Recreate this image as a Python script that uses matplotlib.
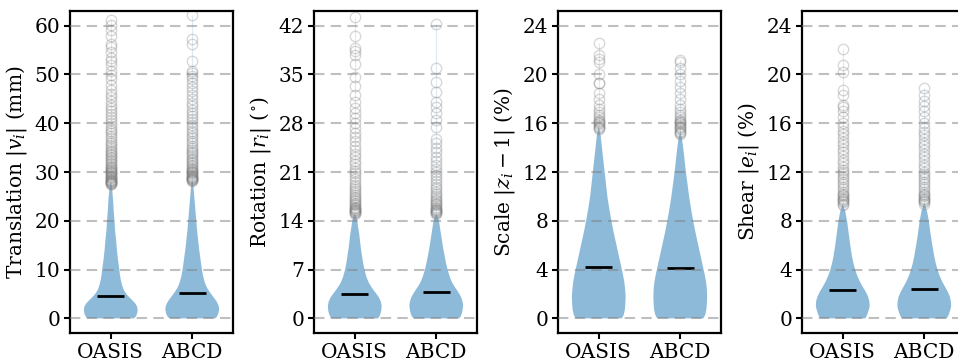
import matplotlib
matplotlib.use("Agg")
import matplotlib.pyplot as plt
import numpy as np

plt.rcParams['font.family'] = 'DejaVu Serif'
plt.rcParams['mathtext.fontset'] = 'dejavuserif'

groups = ["OASIS", "ABCD"]

ylabels = [r"Translation $|v_i|$ (mm)", r"Rotation $|r_i|$ ($^{\circ}$)",
           r"Scale $|z_i - 1|$ (%)", r"Shear $|e_i|$ (%)"]
tick_max = [60, 42, 24, 24]
tick_step = [10, 7, 4, 4]

medians = [[4.55, 5.25], [3.52, 3.81], [4.19, 4.17], [2.29, 2.42]]

# violin outlines: heights and relative half-widths
trans_y = [[0, 0.3, 0.7, 1.2, 1.8, 2.4, 3.0, 3.5, 4.0, 4.5, 5.0, 5.5, 6.0, 7, 8, 9, 10, 12,
            14, 16, 18, 20, 22, 24, 26, 27.5, 28],
           [0, 0.3, 0.7, 1.2, 1.8, 2.4, 3.0, 3.6, 4.2, 4.8, 5.4, 6.0, 6.6, 7.5, 8.5, 10, 12,
            14, 16, 18, 20, 22, 24, 26, 27.8, 28.5]]
trans_w = [[0.86, 0.92, 0.96, 0.99, 1.0, 0.98, 0.92, 0.84, 0.75, 0.66, 0.58, 0.52, 0.47,
            0.41, 0.37, 0.34, 0.32, 0.27, 0.23, 0.2, 0.16, 0.14, 0.11, 0.09, 0.06, 0.03, 0.0],
           [0.85, 0.91, 0.95, 0.98, 1.0, 0.99, 0.95, 0.89, 0.81, 0.73, 0.65, 0.58, 0.52,
            0.46, 0.41, 0.36, 0.31, 0.26, 0.22, 0.18, 0.15, 0.12, 0.09, 0.06, 0.03, 0.0]]
rot_y = [[0, 0.3, 0.7, 1.2, 1.8, 2.4, 3.0, 3.5, 4.0, 4.5, 5.0, 5.5, 6.0, 7, 8, 9, 10, 11,
          12, 13, 14, 14.6, 15],
         [0, 0.3, 0.7, 1.2, 1.8, 2.4, 3.0, 3.5, 4.0, 4.5, 5.0, 5.5, 6.0, 7, 8, 9, 10, 11,
          12, 13, 14, 14.6, 15]]
rot_w = [[0.86, 0.92, 0.96, 0.99, 1.0, 0.97, 0.9, 0.81, 0.71, 0.62, 0.54, 0.48, 0.43,
          0.36, 0.31, 0.27, 0.23, 0.2, 0.17, 0.13, 0.09, 0.05, 0.0],
         [0.85, 0.91, 0.95, 0.98, 1.0, 0.98, 0.93, 0.86, 0.78, 0.69, 0.61, 0.55, 0.5,
          0.42, 0.36, 0.31, 0.26, 0.22, 0.18, 0.14, 0.1, 0.05, 0.0]]
scale_y = [[0, 0.3, 0.7, 1.2, 1.8, 2.4, 3.0, 3.6, 4.2, 5, 6, 7, 8, 9, 10, 11, 12, 13, 14,
            15, 15.8],
           [0, 0.3, 0.7, 1.2, 1.8, 2.4, 3.0, 3.6, 4.2, 5, 6, 7, 8, 9, 10, 11, 12, 13, 14,
            14.8, 15.4]]
scale_w = [[0.86, 0.93, 0.97, 0.99, 1.0, 0.98, 0.95, 0.9, 0.84, 0.76, 0.66, 0.56, 0.47,
            0.39, 0.32, 0.27, 0.22, 0.17, 0.12, 0.07, 0.0],
           [0.86, 0.93, 0.97, 0.99, 1.0, 0.99, 0.96, 0.91, 0.85, 0.77, 0.67, 0.57, 0.48,
            0.4, 0.33, 0.27, 0.21, 0.16, 0.11, 0.06, 0.0]]
shear_y = [[0, 0.3, 0.7, 1.0, 1.4, 1.8, 2.2, 2.6, 3.0, 3.5, 4.0, 4.5, 5, 6, 7, 8, 8.7,
            9.4],
           [0, 0.3, 0.7, 1.0, 1.4, 1.8, 2.2, 2.6, 3.0, 3.5, 4.0, 4.5, 5, 6, 7, 8, 8.8,
            9.5]]
shear_w = [[0.84, 0.91, 0.97, 1.0, 0.99, 0.94, 0.85, 0.74, 0.64, 0.54, 0.46, 0.4, 0.35,
            0.28, 0.22, 0.16, 0.1, 0.0],
           [0.84, 0.91, 0.97, 1.0, 0.99, 0.95, 0.87, 0.77, 0.67, 0.57, 0.49, 0.43, 0.38,
            0.3, 0.23, 0.17, 0.1, 0.0]]

trans_out = [[27.5, 27.6, 27.7, 27.8, 27.9, 28.0, 28.1, 28.2, 28.3, 28.4, 28.6, 28.7, 28.9,
              29.0, 29.2, 29.3, 29.5, 29.7, 29.9, 30.1, 30.3, 30.5, 30.7, 30.9, 31.1, 31.3,
              31.6, 31.9, 32.2, 32.5, 32.8, 33.1, 33.4, 33.7, 34.0, 34.4, 34.8, 35.2, 35.6,
              36.0, 36.4, 36.9, 37.4, 37.9, 38.4, 38.9, 39.4, 40.0, 40.6, 41.2, 41.9, 42.6,
              43.2, 43.8, 44.5, 45.3, 46.0, 46.9, 47.8, 49.0, 49.8, 50.6, 51.9, 52.8, 53.4,
              54.5, 55.6, 56.3, 57.9, 59.1, 60.2, 61.2],
             [28.2, 28.3, 28.4, 28.5, 28.6, 28.7, 28.8, 28.9, 29.0, 29.2, 29.3, 29.5, 29.7,
              29.9, 30.1, 30.3, 30.5, 30.7, 30.9, 31.2, 31.5, 31.8, 32.1, 32.4, 32.7, 33.0,
              33.4, 33.8, 34.2, 34.6, 35.0, 35.4, 35.9, 36.4, 36.9, 37.4, 37.9, 38.4, 39.0,
              39.6, 40.2, 40.8, 41.4, 42.1, 42.8, 43.5, 44.2, 45.0, 45.8, 46.6, 47.4, 48.2,
              49.0, 49.6, 50.2, 50.7, 52.8, 56.3, 57.3, 62.2]]
rot_out = [[15.0, 15.1, 15.2, 15.3, 15.4, 15.5, 15.6, 15.7, 15.8, 15.9, 16.0, 16.2, 16.4,
            16.6, 16.8, 17.0, 17.2, 17.4, 17.7, 18.0, 18.3, 18.6, 18.9, 19.2, 19.6, 20.0,
            20.4, 20.8, 21.2, 21.6, 22.1, 22.6, 23.1, 23.6, 24.2, 24.8, 25.4, 26.0, 26.6,
            27.3, 28.0, 28.8, 29.4, 30.2, 31.0, 32.0, 33.3, 34.7, 36.5, 37.8, 38.3, 38.8,
            40.5, 43.2],
           [15.0, 15.1, 15.2, 15.3, 15.4, 15.5, 15.6, 15.7, 15.8, 16.0, 16.2, 16.4, 16.6,
            16.8, 17.0, 17.3, 17.6, 17.9, 18.2, 18.5, 18.9, 19.3, 19.7, 20.1, 20.5, 21.0,
            21.5, 22.0, 22.6, 23.2, 23.8, 24.4, 25.2, 25.8, 27.5, 28.5, 29.5, 30.3, 31.0,
            32.5, 33.9, 35.9, 42.2]]
scale_out = [[15.5, 15.6, 15.7, 15.8, 15.9, 16.0, 16.1, 16.2, 16.3, 16.5, 16.7, 16.9, 17.2,
              17.5, 18.0, 18.5, 19.3, 19.3, 20.0, 21.0, 21.3, 21.6, 22.6],
             [15.1, 15.2, 15.3, 15.4, 15.5, 15.6, 15.7, 15.8, 15.9, 16.0, 16.1, 16.2, 16.3,
              16.5, 16.7, 16.9, 17.2, 17.5, 18.0, 18.5, 19.0, 19.5, 20.0, 20.5, 21.0, 21.2]]
shear_out = [[9.3, 9.4, 9.5, 9.6, 9.7, 9.8, 9.9, 10.0, 10.1, 10.2, 10.4, 10.6, 10.8, 11.0,
              11.2, 11.4, 11.6, 11.8, 12.0, 12.2, 12.4, 12.7, 13.0, 13.3, 13.6, 13.9, 14.2,
              14.5, 14.8, 15.1, 15.4, 15.7, 16.0, 16.5, 17.0, 17.3, 17.5, 18.3, 18.7, 20.2,
              20.8, 22.1],
             [9.4, 9.5, 9.6, 9.7, 9.8, 9.9, 10.0, 10.1, 10.2, 10.4, 10.6, 10.8, 11.0, 11.2,
              11.4, 11.6, 11.8, 12.0, 12.3, 12.6, 12.9, 13.2, 13.5, 13.8, 14.1, 14.4, 14.7,
              15.0, 15.3, 15.6, 16.0, 16.5, 17.0, 17.4, 17.8, 18.3, 18.9]]

profiles_y = [trans_y, rot_y, scale_y, shear_y]
profiles_w = [trans_w, rot_w, scale_w, shear_w]
outliers = [trans_out, rot_out, scale_out, shear_out]

fig = plt.figure(figsize=(9.58, 3.62), dpi=100)
lefts = [70, 314, 558, 802]
positions = [1, 2]

for k in range(4):
    ax = fig.add_axes([lefts[k] / 958, 29 / 362, 163 / 958, 322 / 362])
    vpstats = []
    for g in range(2):
        ys = np.array(profiles_y[k][g], dtype=float)
        ws = np.array(profiles_w[k][g], dtype=float)
        vpstats.append(dict(coords=ys, vals=ws, mean=medians[k][g], median=medians[k][g],
                            min=ys.min(), max=ys.max()))
    vp = ax.violin(vpstats, positions=positions, widths=0.66, showmeans=False,
                   showextrema=False, showmedians=True)
    for body in vp['bodies']:
        body.set_facecolor('#1f77b4')
        body.set_edgecolor('none')
        body.set_alpha(0.5)
    vp['cmedians'].set_color('black')
    vp['cmedians'].set_linewidth(2)

    for g in range(2):
        out = outliers[k][g]
        ax.vlines(positions[g], max(profiles_y[k][g]), max(out), color='#1f77b4',
                  alpha=0.15, lw=0.8)
        ax.plot([positions[g]] * len(out), out, 'o', mfc='none', mec='gray',
                alpha=0.3, ms=7.5, mew=1.0)

    ax.set_xlim(0.5, 2.5)
    ax.set_ylim(-0.05 * tick_max[k], 1.05 * tick_max[k])
    ax.set_yticks(np.arange(0, tick_max[k] + 1, tick_step[k]))
    ax.set_xticks(positions)
    ax.set_xticklabels(groups)
    ax.yaxis.grid(True, color='gray', alpha=0.5, lw=1.5, linestyle=(0, (5, 3)))
    ax.set_axisbelow(False)
    ax.tick_params(labelsize=14.5, width=1.5, length=4, pad=3)
    for s in ax.spines.values():
        s.set_linewidth(1.6)
    ax.set_ylabel(ylabels[k], fontsize=14.5, labelpad=4)

fig.savefig("out.png", dpi=100)
